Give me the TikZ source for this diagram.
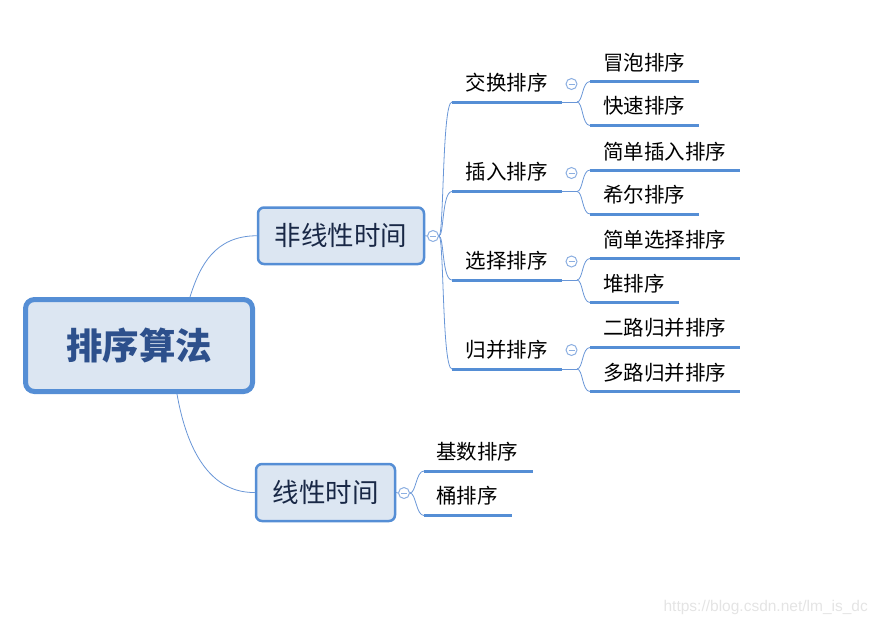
\documentclass[tikz,border=0pt]{standalone}
\usepackage{fontspec}
\setmainfont{Noto Sans CJK SC}
\newfontfamily\wmfont{Liberation Sans}
\usetikzlibrary{calc}
\definecolor{lineblue}{RGB}{85,142,213}
\definecolor{connblue}{RGB}{105,150,215}
\definecolor{fillblue}{RGB}{220,230,242}
\definecolor{toggleblue}{RGB}{140,175,225}
\definecolor{rootink}{RGB}{45,80,140}
\definecolor{lonetext}{RGB}{25,40,70}
\definecolor{wmgray}{RGB}{228,228,228}
\tikzset{
 rootbox/.style={draw=lineblue, line width=5pt, fill=fillblue, rounded corners=9pt, text=rootink, font=\fontsize{36.5}{40}\selectfont\bfseries, inner sep=0},
 onebox/.style={draw=lineblue, line width=2.5pt, fill=fillblue, rounded corners=6pt, text=lonetext, font=\fontsize{26.5}{30}\selectfont, inner sep=0},
 toggle/.style={circle, draw=toggleblue, line width=1pt, fill=white, minimum size=11pt, inner sep=0,
   path picture={\draw[toggleblue, line width=1pt] ($(path picture bounding box.center)+(-3pt,0)$) -- ($(path picture bounding box.center)+(3pt,0)$);}},
 conn/.style={draw=connblue, line width=0.8pt},
 uline/.style={draw=lineblue, line width=3pt},
 twotext/.style={font=\fontsize{20.5}{23}\selectfont, inner sep=0, text=black},
 threetext/.style={font=\fontsize{20.5}{23}\selectfont, inner sep=0, anchor=west, text=black},
}
\begin{document}
\begin{tikzpicture}[x=1pt,y=-1pt]
\useasboundingbox (0,0) rectangle (877,627);
% main nodes
\node[rootbox, minimum width=227pt, minimum height=92pt] (root) at (139,345.5) {排序算法};
\node[onebox, minimum width=166pt, minimum height=56.5pt] (n1) at (341,235.75) {非线性时间};
\node[onebox, minimum width=139pt, minimum height=57pt] (n2) at (325.5,492.5) {线性时间};
\node[toggle] (g0) at (433,236) {};
\node[toggle] (h0) at (404,493) {};
% root connectors
\coordinate (rt) at ($(root.north)+(51,0)$);
\coordinate (rb) at ($(root.south)+(38,0)$);
\draw[conn] (rt) .. controls (200,265) and (215,236) .. (n1.west);
\draw[conn] (rb) .. controls (185,440) and (205,493) .. (n2.west);
\draw[conn] (n1.east) -- (g0.west);
\draw[conn] (n2.east) -- (h0.west);
% level two (non-linear)
\node[twotext] (t1) at (506.5,83) {交换排序};
\node[twotext] (t2) at (506.5,172) {插入排序};
\node[twotext] (t3) at (506.5,261) {选择排序};
\node[twotext] (t4) at (506.5,350) {归并排序};
\coordinate (u1a) at (452,102);   \coordinate (u1b) at (562,102);   \coordinate (j1) at (577,102);
\coordinate (u2a) at (452,191.5); \coordinate (u2b) at (562,191.5); \coordinate (j2) at (577,191.5);
\coordinate (u3a) at (452,280);   \coordinate (u3b) at (562,280);   \coordinate (j3) at (577,280);
\coordinate (u4a) at (452,369);   \coordinate (u4b) at (562,369);   \coordinate (j4) at (577,369);
\node[toggle] (g1) at (571.5,84) {};
\node[toggle] (g2) at (571.5,173) {};
\node[toggle] (g3) at (571.5,261.5) {};
\node[toggle] (g4) at (571.5,350) {};
\foreach \i in {1,2,3,4}{
  \draw[conn] (g0.east) .. controls +(5,0) and +(-10,0) .. (u\i a);
  \draw[uline] (u\i a) -- (u\i b);
  \draw[conn] (u\i b) -- (j\i);
}
% level three
\node[threetext] (s11) at (603,63) {冒泡排序};
\node[threetext] (s12) at (603,106) {快速排序};
\node[threetext] (s21) at (603,151.5) {简单插入排序};
\node[threetext] (s22) at (603,195) {希尔排序};
\node[threetext] (s31) at (603,239.5) {简单选择排序};
\node[threetext] (s32) at (603,284) {堆排序};
\node[threetext] (s41) at (603,328) {二路归并排序};
\node[threetext] (s42) at (603,373) {多路归并排序};
\coordinate (v11a) at (590,81.5);  \coordinate (v11b) at (699,81.5);
\coordinate (v12a) at (590,125.5); \coordinate (v12b) at (699,125.5);
\coordinate (v21a) at (590,170);   \coordinate (v21b) at (740,170);
\coordinate (v22a) at (590,214);   \coordinate (v22b) at (699,214);
\coordinate (v31a) at (590,258.5); \coordinate (v31b) at (740,258.5);
\coordinate (v32a) at (590,302.5); \coordinate (v32b) at (679,302.5);
\coordinate (v41a) at (590,347.5); \coordinate (v41b) at (740,347.5);
\coordinate (v42a) at (590,391.5); \coordinate (v42b) at (740,391.5);
\foreach \i in {1,2,3,4}{
  \foreach \k in {1,2}{
    \draw[conn] (j\i) .. controls +(6,0) and +(-8,0) .. (v\i\k a);
    \draw[uline] (v\i\k a) -- (v\i\k b);
  }
}
% linear
\node[threetext] (r1) at (436,452) {基数排序};
\node[threetext] (r2) at (436,496) {桶排序};
\coordinate (w1a) at (424,471);   \coordinate (w1b) at (533,471);
\coordinate (w2a) at (424,515.5); \coordinate (w2b) at (512,515.5);
\foreach \k in {1,2}{
  \draw[conn] (h0.east) .. controls +(6,0) and +(-8,0) .. (w\k a);
  \draw[uline] (w\k a) -- (w\k b);
}
% watermark
\node[font=\wmfont\fontsize{15.5}{18}\selectfont, text=wmgray, anchor=east, inner sep=0] (wm) at (868,607) {https://blog.csdn.net/lm\_is\_dc};
\end{tikzpicture}
\end{document}
